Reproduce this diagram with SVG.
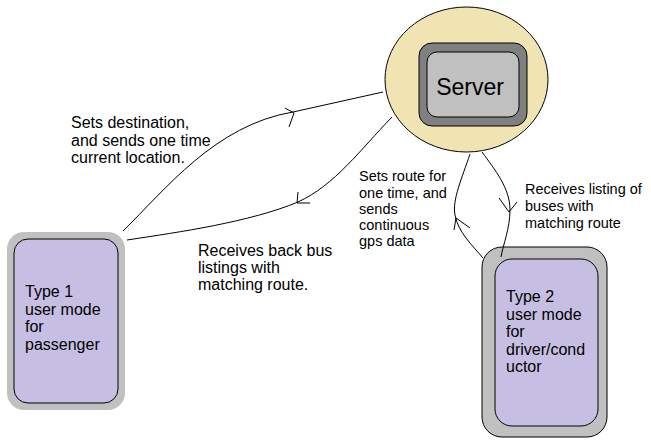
<svg xmlns="http://www.w3.org/2000/svg" width="651" height="447" viewBox="0 0 651 447">
<style>
  .t{font-family:"Liberation Sans",Arial,sans-serif;fill:#000}
  .big{font-size:16px}
  .sm{font-size:14.5px}
  .c{fill:none;stroke:#000;stroke-width:1}
  .card{fill:#C6BFE3;stroke:#000;stroke-width:1}
  .frame{fill:#C0C0C0}
</style>
<rect width="651" height="447" fill="#fff"/>
<g id="server">
  <ellipse cx="466.5" cy="79.5" rx="81.5" ry="72.5" fill="#F0E4B2" stroke="#000" stroke-width="1"/>
  <rect x="419" y="43" width="108" height="83" rx="13" fill="#808080" stroke="#000" stroke-width="1"/>
  <rect x="427" y="52" width="92" height="65" rx="10" fill="#C0C0C0" stroke="#000" stroke-width="1"/>
  <text class="t" x="470" y="95" font-size="23" text-anchor="middle">Server</text>
</g>
<g id="type1">
  <rect class="frame" x="7" y="232" width="118" height="178" rx="17"/>
  <rect class="card" x="14" y="239" width="104" height="164" rx="14"/>
  <text class="t big" x="25" y="297">Type 1</text>
  <text class="t big" x="25" y="314.5">user mode</text>
  <text class="t big" x="25" y="332">for</text>
  <text class="t big" x="25" y="349.5">passenger</text>
</g>
<g id="type2">
  <rect class="frame" x="482" y="247" width="125" height="190" rx="20" stroke="#000" stroke-width="1"/>
  <rect class="card" x="495" y="259" width="103" height="167" rx="17"/>
  <text class="t big" x="506" y="302">Type 2</text>
  <text class="t big" x="506" y="319.5">user mode</text>
  <text class="t big" x="506" y="337">for</text>
  <text class="t big" x="506" y="354.5">driver/cond</text>
  <text class="t big" x="506" y="372">uctor</text>
</g>
<g id="connectors">
  <path class="c" d="M123,231 C165,190 215,125 293,112 L383,92"/>
  <path class="c" d="M285,108 L294,113 L289,127"/>
  <path class="c" d="M392,117 C360,150 335,185 298,202 C250,222 180,232 127,240"/>
  <path class="c" d="M298,192 L297,203 L310,203"/>
  <path class="c" d="M470,154 C462,178 452,200 455,215 C458,232 472,245 483,258"/>
  <path class="c" d="M454,230 L456,218 L470,228"/>
  <path class="c" d="M482,152 C495,170 510,188 510,210 C510,228 503,245 501,257"/>
  <path class="c" d="M499,198 L509,212 L517,202"/>
</g>
<g id="labels">
  <text class="t big" x="71" y="128">Sets destination,</text>
  <text class="t big" x="71" y="145.5">and sends one time</text>
  <text class="t big" x="71" y="163">current location.</text>
  <text class="t big" x="198" y="256">Receives back bus</text>
  <text class="t big" x="198" y="273">listings with</text>
  <text class="t big" x="198" y="290">matching route.</text>
  <text class="t sm" x="359" y="181">Sets route for</text>
  <text class="t sm" x="359" y="197.5">one time, and</text>
  <text class="t sm" x="359" y="214">sends</text>
  <text class="t sm" x="359" y="230">continuous</text>
  <text class="t sm" x="359" y="246">gps data</text>
  <text class="t sm" x="525" y="194">Receives listing of</text>
  <text class="t sm" x="525" y="211">buses with</text>
  <text class="t sm" x="525" y="228">matching route</text>
</g>
</svg>
